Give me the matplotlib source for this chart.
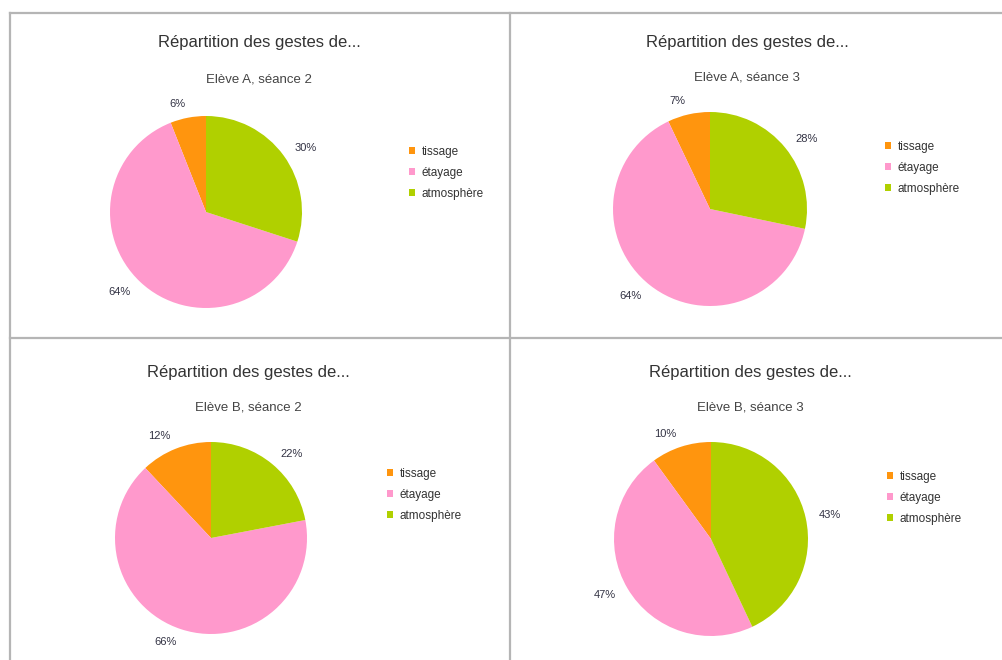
import matplotlib
matplotlib.use("Agg")
import matplotlib.pyplot as plt
from matplotlib.patches import Patch
from matplotlib.lines import Line2D

plt.rcParams['font.family'] = ['Liberation Sans', 'DejaVu Sans']

categories = ["tissage", "étayage", "atmosphère"]
colors = ["#ff950e", "#ff99cc", "#b0d000"]

title = "Répartition des gestes de..."
subtitles = ["Elève A, séance 2", "Elève A, séance 3", "Elève B, séance 2", "Elève B, séance 3"]

a_s2 = [6, 64, 30]
a_s3 = [7, 64, 28]
b_s2 = [12, 66, 22]
b_s3 = [10, 47, 43]
all_values = [a_s2, a_s3, b_s2, b_s3]

W, H = 1003, 660
fig = plt.figure(figsize=(W / 100, H / 100), dpi=100)

# pixel layout of each panel: pie centre, radius, title x/y, subtitle y, legend pos
panels = [
    dict(cx=206, cy=212, r=96, tx=259, ty=43, sy=80, lx=409, ly=146),
    dict(cx=710, cy=209, r=97, tx=747, ty=42, sy=78, lx=885, ly=141),
    dict(cx=211, cy=538, r=96, tx=248, ty=373, sy=408, lx=387, ly=468),
    dict(cx=711, cy=539, r=97, tx=750, ty=372, sy=407, lx=887, ly=471),
]


def fx(x):
    return x / W


def fy(y):
    return 1 - y / H


for vals, sub, p in zip(all_values, subtitles, panels):
    ax = fig.add_axes([fx(p['cx'] - p['r']), fy(p['cy'] + p['r']),
                       2 * p['r'] / W, 2 * p['r'] / H])
    wedges, texts = ax.pie(vals, colors=colors, startangle=90, counterclock=True,
                           labels=[f"{v}%" for v in vals], labeldistance=1.14,
                           wedgeprops=dict(linewidth=0),
                           textprops=dict(fontsize=8, color="#333344"))
    ax.set_xlim(-1, 1)
    ax.set_ylim(-1, 1)
    ax.set_axis_off()

    fig.text(fx(p['tx']), fy(p['ty']), title, ha='center', va='center',
             fontsize=12, color='#333333')
    fig.text(fx(p['tx']), fy(p['sy']), sub, ha='center', va='center',
             fontsize=9.5, color='#444444')

    handles = [Patch(facecolor=c, edgecolor='none') for c in colors]
    fig.legend(handles, categories, loc='upper left',
               bbox_to_anchor=(fx(p['lx']), fy(p['ly'])),
               frameon=False, fontsize=8.5, handlelength=0.55, handleheight=0.55,
               handletextpad=0.5, labelspacing=0.75, borderpad=0, borderaxespad=0,
               labelcolor='#333333')

# panel borders
line_kw = dict(color='#b5b5b5', linewidth=1.6, transform=fig.transFigure)
fig.add_artist(Line2D([fx(10), fx(10)], [fy(13), fy(660)], **line_kw))
fig.add_artist(Line2D([fx(10), fx(1003)], [fy(13), fy(13)], **line_kw))
fig.add_artist(Line2D([fx(510), fx(510)], [fy(13), fy(660)], **line_kw))
fig.add_artist(Line2D([fx(10), fx(1003)], [fy(338), fy(338)], **line_kw))

fig.savefig("out.png", dpi=100)
